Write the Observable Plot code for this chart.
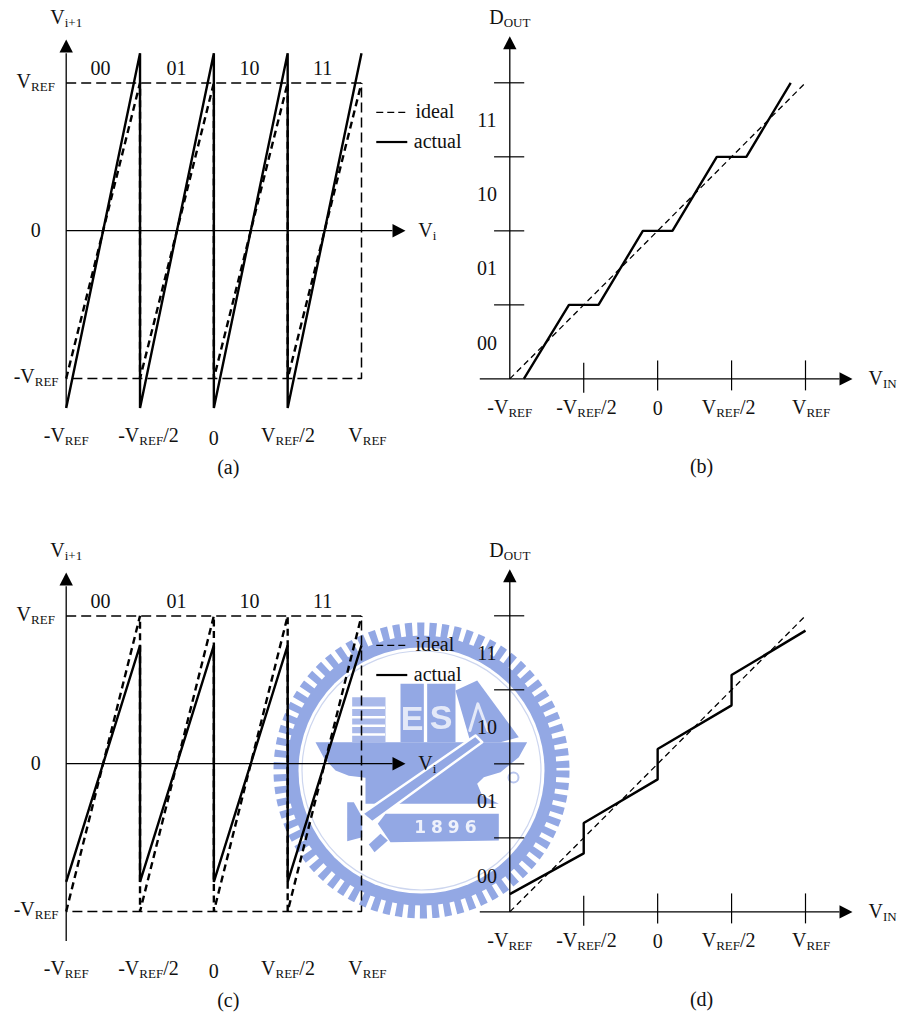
<!DOCTYPE html>
<html>
<head>
<meta charset="utf-8">
<script src="https://cdn.jsdelivr.net/npm/d3@7"></script>
<script src="https://cdn.jsdelivr.net/npm/@observablehq/plot@0.6"></script>
<style>
html,body{margin:0;padding:0;background:#fff;overflow:hidden}
#page{position:relative;width:898px;height:1013px;overflow:hidden}
#page svg{position:absolute;overflow:visible;max-width:none}
</style>
</head>
<body>
<div id="page"></div>
<script>
// ---- transfer curves (in units of VREF) ----
const sawX        = [-1,-0.5,-0.5,0,0,0.5,0.5,1];
const idealSawY   = [-1,1,-1,1,-1,1,-1,1];
const actualSawA  = [-1.2,1.2,-1.2,1.2,-1.2,1.2,-1.2,1.2];
const actualSawC  = [-0.8,0.8,-0.8,0.8,-0.8,0.8,-0.8,0.8];
const boxX        = [-1,1,1,-1];
const boxY        = [1,1,-1,-1];
const idealDX     = [-1,1];
const idealDY     = [0,4];
const actualBX    = [-0.905,-0.6,-0.4,-0.1,0.1,0.4,0.6,0.9];
const actualBY    = [0,1,1,2,2,3,3,4];
const actualDX    = [-1,-0.5,-0.5,0,0,0.5,0.5,1];
const actualDY    = [0.24,0.79,1.2,1.79,2.2,2.79,3.2,3.8];
const dTicks      = [1,2,3,4];
const vTicks      = [0,0.5,1];

// ---- labels: [text, x, y] in each panel's data units ----
const codes = ["00","01","10","11"];
const codeX = [-0.767,-0.253,0.242,0.736];
const codeDY = [0.397,1.4,2.405,3.405];
const leftTop = [["V_{i+1}",-1.0,1.40],["0",-1.207,-0.045]];
const leftBottom = [["-V_{REF}",-1.0],["-V_{REF}/2",-0.443],["0",0,-1.453],["V_{REF}/2",0.502],["V_{REF}",1.04]];
const leftStart = [["V_{REF}",-1.336,0.968],["-V_{REF}",-1.356,-1.029],["ideal",1.365,0.765],["actual",1.354,0.557],["V_{i}",1.384,-0.04]];
const rightBottom = [["-V_{REF}",-1.0],["-V_{REF}/2",-0.482],["0",0,-0.485],["V_{REF}/2",0.48],["V_{REF}",1.038]];

// ---- watermark outlines, in the logo's own units ----
const logoBlue = "#93a8e4";
const logoBowl = [[135,365],[770,365],[745,410],[690,455],[640,470],[620,490],[635,525],[685,550],[385,550],[285,550],[285,472],[235,466],[195,450],[160,412]];
const logoSword = [[615,345],[635,365],[305,605],[275,580]];
const logoBanner = [[345,580],[685,580],[685,660],[360,665],[322,610]];
const logoTower1 = [[390,190],[460,190],[460,365],[390,365]];
const logoTower2 = [[470,190],[555,190],[555,365],[470,365]];
const logoRoof = [[555,210],[620,180],[745,350],[690,365],[600,365]];
const logoBlock = [[245,230],[345,230],[345,365],[245,365]];
const logoGuard = [[230,545],[250,545],[275,590],[275,650],[230,662],[230,610]];
const logoGrip = [[295,672],[330,640],[352,660],[312,695]];
const logoLetterA = [[598,330],[622,250],[652,330]];
const logoStripesY = [262,290,316,342];

const serif = "'Liberation Serif','Times New Roman',serif";
const FS = 20;
const pts = (xs,ys)=>xs.map((x,i)=>({x,y:ys[i]}));
const poly = (p,o={})=>Plot.line(p,{x:d=>d[0],y:d=>d[1],fill:logoBlue,stroke:"none",curve:"linear-closed",...o});
const triangle = {draw(c){c.moveTo(0,0);c.lineTo(6.7,13);c.lineTo(-6.7,13);c.closePath();}};
const arrow = (x,y,rotate)=>Plot.dot([{x,y}],{x:"x",y:"y",symbol:triangle,r:5,fill:"#000",stroke:"none",rotate});
const line = (xs,ys,o)=>Plot.line(pts(xs,ys),{x:"x",y:"y",stroke:"#000",strokeLinecap:"butt",strokeLinejoin:"bevel",...o});
const rows = l=>l.map(r=>({t:r[0],x:r[1],y:r[2]}));
const txt = (list,anchor)=>Plot.text(rows(list),{x:"x",y:"y",text:"t",textAnchor:anchor,lineAnchor:"bottom",fontSize:FS,fill:"#111"});

function place(el,left,top){el.style.left=left+"px";el.style.top=top+"px";
  // real subscripts: V_{REF} becomes a lowered, smaller tspan
  d3.select(el).selectAll("text").each(function(){
    const s=this.textContent;
    if(s==="1896") d3.select(this).attr("letter-spacing",5);
    if(!s.includes("_{"))return;
    const parts=s.split(/(_\{[^}]*\})/).filter(Boolean);
    this.textContent="";
    let lowered=false;
    for(const p of parts){
      const sub=p.startsWith("_{");
      const ts=d3.select(this).append("tspan").text(sub?p.slice(2,-1):p);
      if(sub){ts.attr("font-size",FS*0.65).attr("dy",3);lowered=true;}
      else if(lowered){ts.attr("dy",-3);lowered=false;}
    }
  });
  document.getElementById("page").appendChild(el);
}

const base = {marginTop:0,marginRight:0,marginBottom:0,marginLeft:0,width:898,height:533,
  style:{background:"transparent",fontFamily:serif,overflow:"visible"}};

function leftPanel(actual,caption){
  const bottom = leftBottom.map(r=>[r[0],r[1],r[2]??-1.433]);
  return Plot.plot({...base,
    x:{domain:[-1,1],range:[65.7,361],axis:null},
    y:{domain:[-1,1],range:[378,82.4],axis:null},
    marks:[
      line(boxX,boxY,{strokeWidth:1.5,strokeDasharray:"10 5"}),
      line(sawX,idealSawY,{strokeWidth:2.4,strokeDasharray:"7 4.5"}),
      line(sawX,actual,{strokeWidth:2.4}),
      line([-1,-1],[-1.2,1.2],{strokeWidth:1.3}),
      line([-1,1.21],[0,0],{strokeWidth:1.3}),
      arrow(-1,1.293,0), arrow(1.298,0,90),
      line([1.10,1.31],[0.80,0.80],{strokeWidth:1.3,strokeDasharray:"7 4"}),
      line([1.10,1.31],[0.60,0.60],{strokeWidth:2.2}),
      Plot.text(codes,{x:codeX,y:codes.map(()=>1.055),text:d=>d,textAnchor:"middle",lineAnchor:"bottom",fontSize:FS,fill:"#111"}),
      txt(leftTop,"middle"), txt(bottom,"middle"), txt(leftStart,"start"),
      txt([[caption,0.0975,-1.645]],"middle")
    ]});
}

function rightPanel(ax,ay,caption){
  const bottom = rightBottom.map(r=>[r[0],r[1],r[2]??-0.468]);
  return Plot.plot({...base,
    x:{domain:[-1,1],range:[509.3,805],axis:null},
    y:{domain:[0,4],range:[378.4,82.3],axis:null},
    marks:[
      line(idealDX,idealDY,{strokeWidth:1.3,strokeDasharray:"6 4"}),
      line(ax,ay,{strokeWidth:2.4}),
      line([-1,-1],[0,4.5],{strokeWidth:1.3}),
      line([-1.203,1.23],[0,0],{strokeWidth:1.3}),
      Plot.ruleY(dTicks,{x1:-1.103,x2:-0.899,stroke:"#000",strokeWidth:1.2}),
      Plot.ruleX(vTicks,{y1:-0.162,y2:0.243,stroke:"#000",strokeWidth:1.2}),
      Plot.ruleX([-0.5],{y1:-0.193,y2:0.212,stroke:"#000",strokeWidth:1.2}),
      arrow(-1,4.63,0), arrow(1.318,0,90),
      Plot.text(codes,{x:codes.map(()=>-1.155),y:codeDY,text:d=>d,textAnchor:"middle",lineAnchor:"bottom",fontSize:FS,fill:"#111"}),
      txt([["D_{OUT}",-1.0,4.79],[caption,0.297,-1.274]],"middle"),
      txt(bottom,"middle"),
      txt([["V_{IN}",1.426,-0.085]],"start")
    ]});
}

function logo(){
  const white="#fff";
  const c=[{x:453,y:450}];
  const ring=(r,o)=>Plot.dot(c,{x:"x",y:"y",r,...o});
  const letter=(t,x,y,fontSize)=>Plot.text([t],{x:[x],y:[y],text:d=>d,fill:"#e4e9f8",fontSize,fontWeight:"bold",fontFamily:"'Liberation Sans',sans-serif"});
  return Plot.plot({marginTop:0,marginRight:0,marginBottom:0,marginLeft:0,width:280,height:300,
    style:{background:"transparent",overflow:"visible",filter:"blur(0.7px)"},
    x:{domain:[0,840],range:[0,280],axis:null},
    y:{domain:[0,900],range:[0,300],axis:null},
    marks:[
      ring(141,{fill:"none",stroke:logoBlue,strokeWidth:14,strokeDasharray:"7 5"}),
      ring(135,{fill:logoBlue,stroke:"none"}),
      ring(123,{fill:white,stroke:"none"}),
      ring(119.5,{fill:"none",stroke:"#cdd6ef",strokeWidth:1.2}),
      poly(logoBowl),
      poly(logoBlock,{fill:"#a9b9ea"}),
      Plot.ruleY(logoStripesY,{x1:245,x2:345,stroke:white,strokeWidth:2.5}),
      poly(logoTower1), poly(logoTower2), poly(logoRoof),
      Plot.line(logoLetterA,{x:d=>d[0],y:d=>d[1],stroke:"#e4e9f8",strokeWidth:3,fill:"none"}),
      poly(logoSword,{stroke:white,strokeWidth:2.5}),
      poly(logoBanner), poly(logoGuard), poly(logoGrip),
      Plot.dot([{x:729,y:471}],{x:"x",y:"y",r:5,fill:"none",stroke:"#b9c6ee",strokeWidth:2}),
      letter("E",425,295,34), letter("S",512,292,34),
      Plot.text(["1896"],{x:[532],y:[622],text:d=>d,fill:"#eef1fb",fontSize:17,fontWeight:"bold",fontFamily:"'DejaVu Sans',sans-serif"})
    ]});
}

place(logo(),270,620);
place(leftPanel(actualSawA,"(a)"),0,0);
place(rightPanel(actualBX,actualBY,"(b)"),0,0);
place(leftPanel(actualSawC,"(c)"),0,533);
place(rightPanel(actualDX,actualDY,"(d)"),0,533);
</script>
</body>
</html>
